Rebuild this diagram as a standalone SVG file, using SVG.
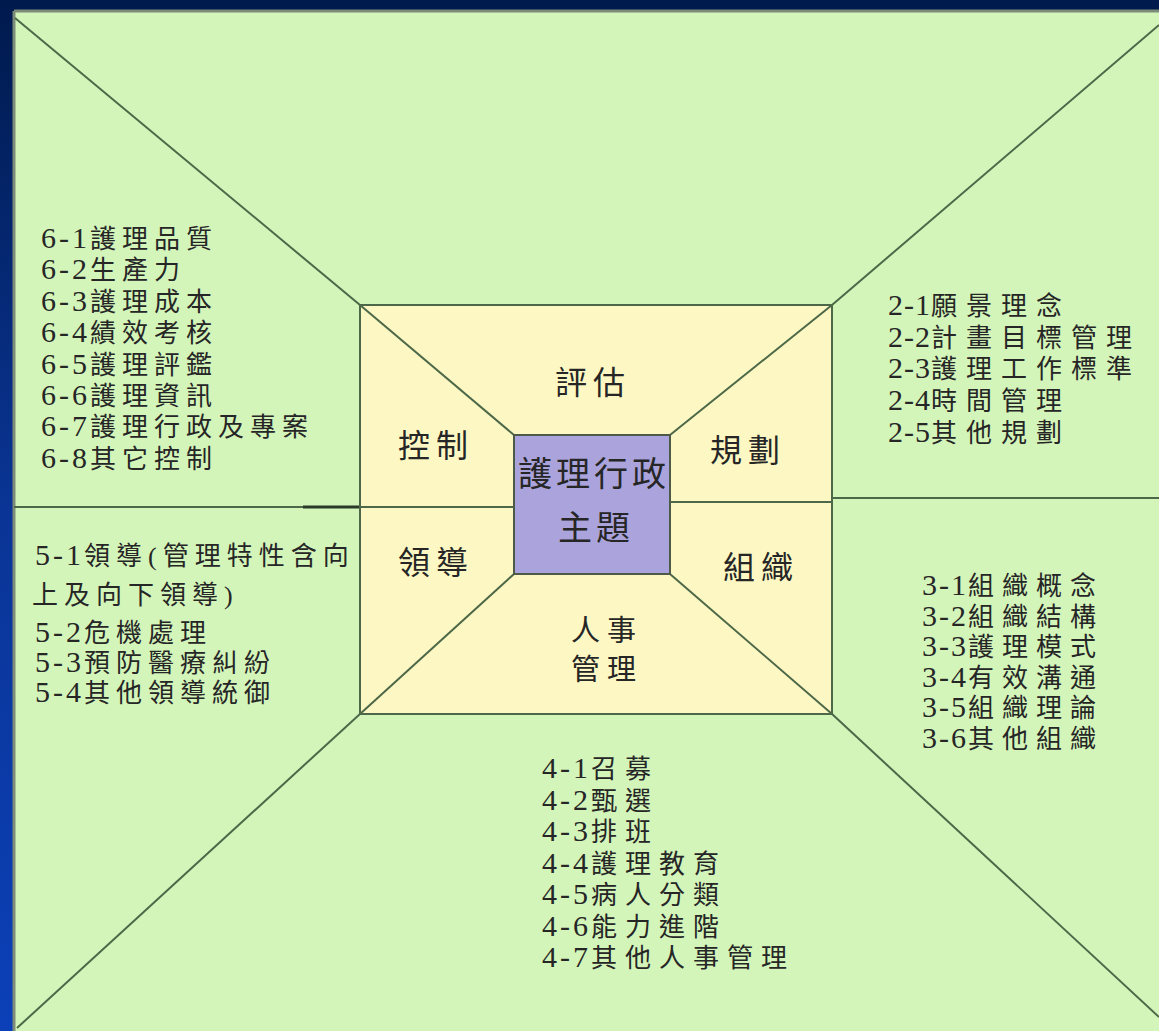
<svg xmlns="http://www.w3.org/2000/svg" width="1159" height="1031" viewBox="0 0 1159 1031">
<defs>
<linearGradient id="edge" x1="0" y1="0" x2="0" y2="1">
<stop offset="0" stop-color="#001a4d"/>
<stop offset="0.5" stop-color="#0a3596"/>
<stop offset="1" stop-color="#0c40b8"/>
</linearGradient>
<style>
.ln{stroke:#4d6848;stroke-width:2;fill:none}
.bd{stroke:#7d8c78;stroke-width:3;fill:none}
.t{font-family:"Liberation Serif","Noto Sans CJK TC","Noto Sans CJK JP",serif;font-size:26px;fill:#262626}
.n{font-size:30px}
.lb{font-family:"Noto Sans CJK TC","Noto Sans CJK JP",sans-serif;font-size:32px;fill:#262626;text-anchor:middle;letter-spacing:6px}
.lb2{font-family:"Noto Sans CJK TC","Noto Sans CJK JP",sans-serif;font-size:29px;fill:#262626;text-anchor:middle;letter-spacing:7px}
.cb{font-family:"Noto Sans CJK TC","Noto Sans CJK JP",sans-serif;font-size:34px;fill:#262626;text-anchor:middle;letter-spacing:4px}
</style>
</defs>
<rect x="0" y="0" width="1159" height="1031" fill="#001a4d"/>
<rect x="0" y="0" width="13" height="1031" fill="url(#edge)"/>
<rect x="14" y="11" width="1145" height="1020" fill="#d4f5ba"/>
<g id="frame">
<line class="bd" x1="14" y1="11" x2="1159" y2="11"/>
<line class="bd" x1="14" y1="11" x2="14" y2="1031"/>
</g>
<g id="connectors">
<line class="ln" x1="15" y1="18" x2="360" y2="305"/>
<line class="ln" x1="1159" y1="25" x2="832" y2="305"/>
<line class="ln" x1="17" y1="1028" x2="360" y2="714"/>
<line class="ln" x1="1159" y1="1017" x2="832" y2="714"/>
<line class="ln" x1="14" y1="507" x2="360" y2="507"/>
<line x1="303" y1="507" x2="360" y2="507" stroke="#2a3a28" stroke-width="3"/>
<line class="ln" x1="832" y1="498" x2="1159" y2="498"/>
</g>
<g id="outer-box">
<rect x="360" y="305" width="472" height="409" fill="#fdf8c3" stroke="#4d6848" stroke-width="2"/>
<line class="ln" x1="360" y1="305" x2="514" y2="435"/>
<line class="ln" x1="832" y1="305" x2="670" y2="435"/>
<line class="ln" x1="360" y1="714" x2="514" y2="574"/>
<line class="ln" x1="832" y1="714" x2="670" y2="574"/>
<line class="ln" x1="360" y1="507" x2="514" y2="507"/>
<line class="ln" x1="670" y1="502" x2="832" y2="502"/>
</g>
<g id="center">
<rect x="514" y="435" width="156" height="139" fill="#aaa3dc" stroke="#4d5a48" stroke-width="2"/>
<text class="cb" x="594" y="486">護理行政</text>
<text class="cb" x="596" y="540">主題</text>
</g>
<g id="label-eval"><text class="lb" x="593" y="394">評估</text></g>
<g id="label-control"><text class="lb" x="436" y="457">控制</text></g>
<g id="label-lead"><text class="lb" x="436" y="574">領導</text></g>
<g id="label-plan"><text class="lb" x="748" y="462">規劃</text></g>
<g id="label-org"><text class="lb" x="761" y="579">組織</text></g>
<g id="label-hr"><text class="lb2" x="607" y="641">人事</text><text class="lb2" x="607" y="680">管理</text></g>
<g id="list-6" class="t" letter-spacing="6">
<text x="41" y="248"><tspan class="n" letter-spacing="3">6-1</tspan>護理品質</text>
<text x="41" y="279"><tspan class="n" letter-spacing="3">6-2</tspan>生產力</text>
<text x="41" y="311"><tspan class="n" letter-spacing="3">6-3</tspan>護理成本</text>
<text x="41" y="342"><tspan class="n" letter-spacing="3">6-4</tspan>績效考核</text>
<text x="41" y="374"><tspan class="n" letter-spacing="3">6-5</tspan>護理評鑑</text>
<text x="41" y="405"><tspan class="n" letter-spacing="3">6-6</tspan>護理資訊</text>
<text x="41" y="436"><tspan class="n" letter-spacing="3">6-7</tspan>護理行政及專案</text>
<text x="41" y="468"><tspan class="n" letter-spacing="3">6-8</tspan>其它控制</text>
</g>
<g id="list-2" class="t" letter-spacing="9">
<text x="888" y="315"><tspan class="n" letter-spacing="1">2-1</tspan>願景理念</text>
<text x="888" y="347"><tspan class="n" letter-spacing="1">2-2</tspan>計畫目標管理</text>
<text x="888" y="378"><tspan class="n" letter-spacing="1">2-3</tspan>護理工作標準</text>
<text x="888" y="410"><tspan class="n" letter-spacing="1">2-4</tspan>時間管理</text>
<text x="888" y="442"><tspan class="n" letter-spacing="1">2-5</tspan>其他規劃</text>
</g>
<g id="list-3" class="t" letter-spacing="8">
<text x="922" y="595"><tspan class="n" letter-spacing="2">3-1</tspan>組織概念</text>
<text x="922" y="626"><tspan class="n" letter-spacing="2">3-2</tspan>組織結構</text>
<text x="922" y="656"><tspan class="n" letter-spacing="2">3-3</tspan>護理模式</text>
<text x="922" y="687"><tspan class="n" letter-spacing="2">3-4</tspan>有效溝通</text>
<text x="922" y="717"><tspan class="n" letter-spacing="2">3-5</tspan>組織理論</text>
<text x="922" y="748"><tspan class="n" letter-spacing="2">3-6</tspan>其他組織</text>
</g>
<g id="list-4" class="t" letter-spacing="8">
<text x="542" y="778"><tspan class="n" letter-spacing="3">4-1</tspan>召募</text>
<text x="542" y="810"><tspan class="n" letter-spacing="3">4-2</tspan>甄選</text>
<text x="542" y="841"><tspan class="n" letter-spacing="3">4-3</tspan>排班</text>
<text x="542" y="873"><tspan class="n" letter-spacing="3">4-4</tspan>護理教育</text>
<text x="542" y="904"><tspan class="n" letter-spacing="3">4-5</tspan>病人分類</text>
<text x="542" y="936"><tspan class="n" letter-spacing="3">4-6</tspan>能力進階</text>
<text x="542" y="967"><tspan class="n" letter-spacing="3">4-7</tspan>其他人事管理</text>
</g>
<g id="list-5" class="t" letter-spacing="6">
<text x="35" y="565"><tspan class="n" letter-spacing="3">5-1</tspan>領導(管理特性含向</text>
<text x="32" y="604">上及向下領導)</text>
<text x="35" y="642"><tspan class="n" letter-spacing="3">5-2</tspan>危機處理</text>
<text x="35" y="672"><tspan class="n" letter-spacing="3">5-3</tspan>預防醫療糾紛</text>
<text x="35" y="702"><tspan class="n" letter-spacing="3">5-4</tspan>其他領導統御</text>
</g>
</svg>
